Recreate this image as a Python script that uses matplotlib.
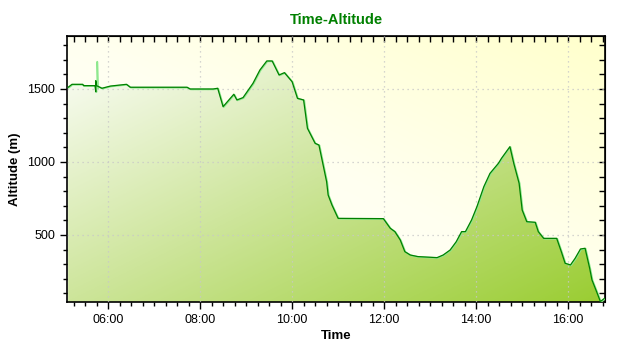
import matplotlib
matplotlib.use('Agg')
import matplotlib.pyplot as plt
from matplotlib.ticker import MultipleLocator, FuncFormatter
from matplotlib.colors import LinearSegmentedColormap
import numpy as np

# track log
times = ["05:08", "05:13", "05:27", "05:28", "05:43", "05:44", "05:44", "05:45", "05:52", "06:03",
         "06:24", "06:29", "07:43", "07:47", "08:17", "08:23", "08:30", "08:44", "08:48", "08:56",
         "09:09", "09:18", "09:27", "09:34", "09:43", "09:50", "10:00", "10:07", "10:15", "10:20",
         "10:30", "10:35", "10:45", "10:47", "10:52", "11:00", "11:59", "12:08", "12:14", "12:21",
         "12:27", "12:34", "12:44", "13:09", "13:17", "13:26", "13:34", "13:41", "13:46", "13:54",
         "14:01", "14:10", "14:18", "14:29", "14:33", "14:44", "14:49", "14:56", "15:00", "15:06",
         "15:17", "15:21", "15:28", "15:45", "15:51", "15:56", "16:03", "16:09", "16:16", "16:22",
         "16:28", "16:31", "16:37", "16:42", "16:47"]
altitude = [1512, 1532, 1532, 1523, 1523, 1481, 1557, 1523, 1505, 1520,
            1532, 1512, 1512, 1500, 1500, 1505, 1379, 1464, 1425, 1441,
            1539, 1630, 1692, 1692, 1596, 1612, 1550, 1436, 1425, 1231,
            1128, 1116, 865, 774, 705, 614, 612, 546, 523, 466,
            386, 363, 352, 345, 363, 397, 454, 523, 523, 603,
            694, 831, 922, 991, 1025, 1105, 991, 854, 671, 591,
            587, 523, 477, 477, 386, 306, 295, 340, 404, 409,
            272, 192, 112, 44, 65]
spike_times = ["05:46", "05:46", "05:47"]
spike_alt = [1523, 1687, 1505]


def to_hours(t):
    h, m = t.split(':')
    return int(h) + int(m) / 60.0


def fmt_time(v, pos):
    h = int(v)
    m = int(round((v - h) * 60))
    if m == 60:
        h, m = h + 1, 0
    return '{:02d}:{:02d}'.format(h, m)


x = np.array([to_hours(t) for t in times])
y = np.array(altitude)
xs = np.array([to_hours(t) for t in spike_times])

x_min, x_max = to_hours("05:06") + 0.5 / 60, to_hours("16:48")
y_min, y_max = 41, 1863

plt.rcParams['font.family'] = ['Liberation Sans', 'DejaVu Sans']
fig = plt.figure(figsize=(6.4, 3.5), dpi=100)
ax = fig.add_axes([67 / 640, 1 - 302 / 350, 538 / 640, 266 / 350])
ax.set_xlim(x_min, x_max)
ax.set_ylim(y_min, y_max)

# background gradient (ivory -> light yellow)
gx, gy = np.meshgrid(np.linspace(0, 1, 200), np.linspace(0, 1, 200))
bg_cmap = LinearSegmentedColormap.from_list('bg', ['#ffffff', '#fffff0', '#ffffcc'])
ax.imshow((gx + gy) / 2, cmap=bg_cmap, extent=[0, 1, 0, 1], transform=ax.transAxes,
          origin='lower', aspect='auto', zorder=0)

# area under the curve with diagonal gradient
fill_cmap = LinearSegmentedColormap.from_list('fill', ['#ffffff', '#cde59a', '#9acd32'])
poly = ax.fill_between(x, y, y_min - 50, color='none', zorder=1)
img = ax.imshow((gx + (1 - gy)) / 2, cmap=fill_cmap, extent=[0, 1, 0, 1], transform=ax.transAxes,
                origin='lower', aspect='auto', zorder=1)
img.set_clip_path(poly.get_paths()[0], transform=ax.transData)

ax.grid(True, which='major', color='#c8c8c8', linestyle=(0, (1, 3)), linewidth=0.9, zorder=2)
ax.set_axisbelow(False)

ax.plot(x + 0.015, y - 3, color='#8ee88e', linewidth=1.2, zorder=3)
ax.plot(xs, spike_alt, color='#8ee88e', linewidth=1.2, zorder=3)
ax.plot(x, y, color='#008000', linewidth=0.9, zorder=4)

ax.xaxis.set_major_locator(MultipleLocator(2))
ax.xaxis.set_minor_locator(MultipleLocator(0.25))
ax.xaxis.set_major_formatter(FuncFormatter(fmt_time))
ax.yaxis.set_major_locator(MultipleLocator(500))
ax.yaxis.set_minor_locator(MultipleLocator(100))

ax.tick_params(axis='both', which='both', direction='out', labelsize=9, colors='black')
ax.tick_params(which='major', length=5, width=1)
ax.tick_params(which='minor', length=3, width=1)
for s in ax.spines.values():
    s.set_linewidth(1.2)

# inner ticks on top and right side
axt = ax.secondary_xaxis('top')
axt.xaxis.set_major_locator(MultipleLocator(0.25))
axt.tick_params(direction='in', length=4, width=1, labeltop=False)
axr = ax.secondary_yaxis('right')
axr.yaxis.set_major_locator(MultipleLocator(100))
axr.tick_params(direction='in', length=4, width=1, labelright=False)

ax.set_title('Time-Altitude', color='#008000', fontsize=10.5, fontweight='bold', pad=9)
ax.set_xlabel('Time', fontsize=9.5, fontweight='bold', labelpad=3)
ax.set_ylabel('Altitude (m)', fontsize=9.5, fontweight='bold')
ax.yaxis.set_label_coords(-0.085, 0.5)

fig.savefig('out.png', dpi=100)
